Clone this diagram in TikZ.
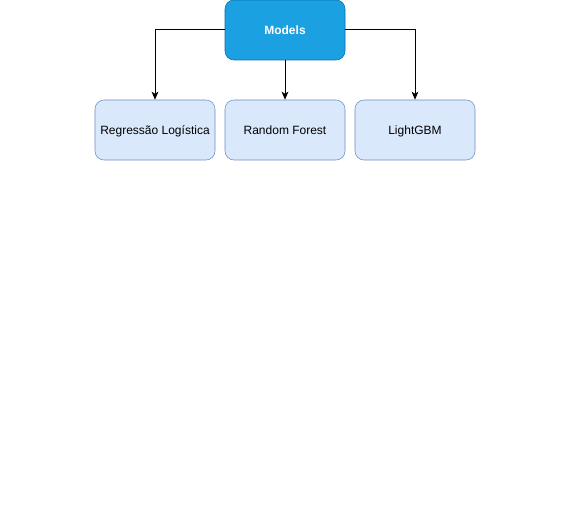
\documentclass[tikz,border=0pt]{standalone}
\usepackage{fontspec}
\setmainfont{Liberation Sans}
\usetikzlibrary{arrows.meta}
\definecolor{rootfill}{HTML}{1BA1E2}
\definecolor{rootline}{HTML}{006EAF}
\definecolor{leaffill}{HTML}{DAE8FC}
\definecolor{leafline}{HTML}{6C8EBF}
\tikzset{
  box/.style={rectangle, rounded corners=6.75pt, minimum width=90pt, minimum height=45pt,
    inner sep=0pt, text height=8.5pt, text depth=2pt, font=\fontsize{9pt}{11pt}\selectfont},
  rootbox/.style={box, fill=rootfill, draw=rootline, text=white, font=\fontsize{9pt}{11pt}\selectfont\bfseries},
  leafbox/.style={box, fill=leaffill, draw=leafline, text=black},
  link/.style={draw=black, line width=0.75pt, -{Stealth[length=6pt,width=5pt,inset=1.5pt]}}
}
\begin{document}
\begin{tikzpicture}[x=0.75pt, y=-0.75pt]
  \useasboundingbox (0,0) rectangle (571,531);
  \node[rootbox] (models) at (285,30) {Models};
  \node[leafbox] (lr) at (155,130) {Regressão Logística};
  \node[leafbox] (rf) at (285,130) {Random Forest};
  \node[leafbox] (lgbm) at (415,130) {LightGBM};
  \draw[link] (models.west) -| (lr.north);
  \draw[link] (models.south) -- (rf.north);
  \draw[link] (models.east) -| (lgbm.north);
\end{tikzpicture}
\end{document}
